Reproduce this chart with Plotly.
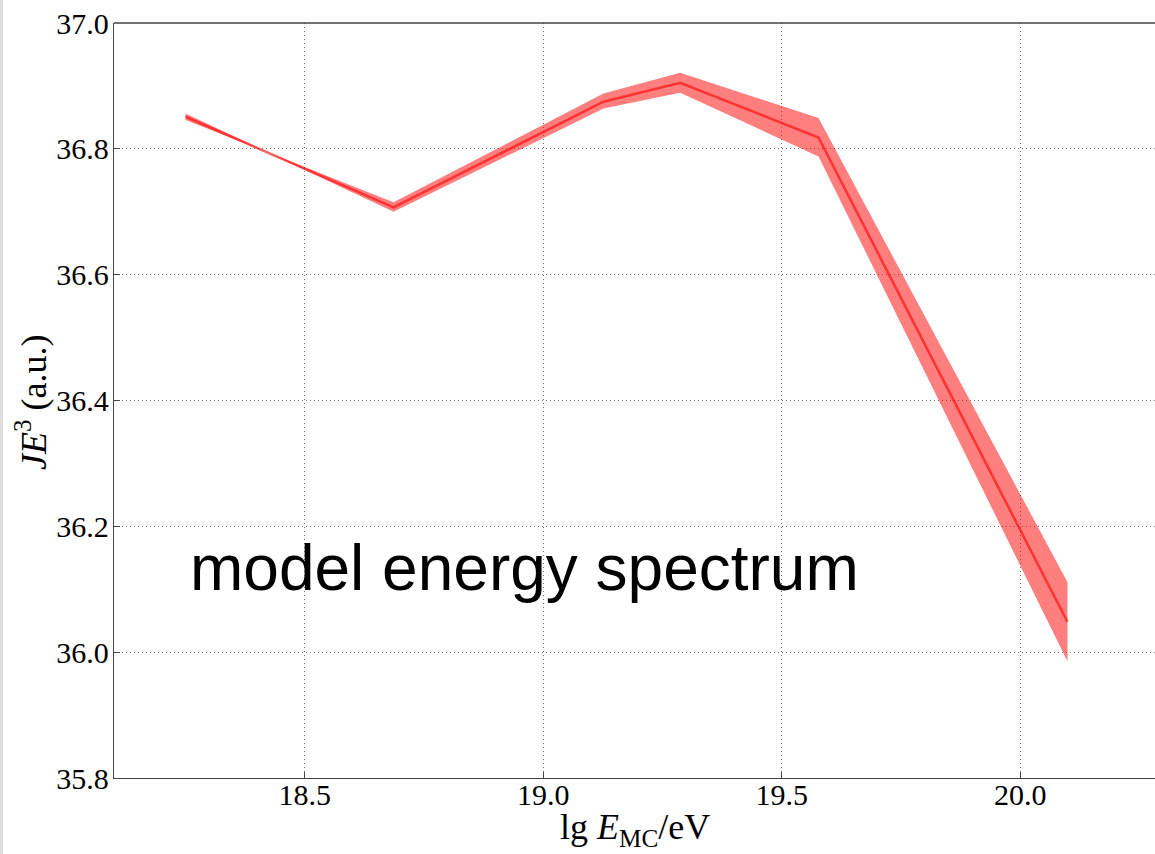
import plotly.graph_objects as go

# Data
lg_energy = [18.25, 18.686, 19.126, 19.287, 19.577, 20.099]
je3_mean = [36.851, 36.707, 36.875, 36.905, 36.818, 36.048]
je3_low = [36.856, 36.700, 36.864, 36.889, 36.788, 35.985]
je3_high = [36.846, 36.715, 36.888, 36.921, 36.849, 36.111]

y_ticks = [35.8, 36.0, 36.2, 36.4, 36.6, 36.8, 37.0]
x_ticks = [18.5, 19.0, 19.5, 20.0]

W, H = 1155, 854
L, R, T, B = 114, 0, 23, 76
pw = W - L - R
ph = H - T - B

SERIF = "Liberation Serif, DejaVu Serif, serif"
SANS = "Liberation Sans, Arial, sans-serif"

fig = go.Figure()
fig.add_trace(go.Scatter(x=lg_energy, y=je3_low, mode="lines",
                         line=dict(width=0, color="rgba(255,0,0,0)"),
                         showlegend=False, hoverinfo="skip"))
fig.add_trace(go.Scatter(x=lg_energy, y=je3_high, mode="lines",
                         line=dict(width=0, color="rgba(255,0,0,0)"),
                         fill="tonexty", fillcolor="rgba(255,0,0,0.5)",
                         showlegend=False, hoverinfo="skip"))
fig.add_trace(go.Scatter(x=lg_energy, y=je3_mean, mode="lines",
                         line=dict(width=2.6, color="rgba(255,0,0,0.6)"),
                         showlegend=False))

def px_x(p):
    return (p - L) / pw

def px_y(p):
    return 1 - (p - T) / ph

axis_color = "#444444"
grid_color = "rgba(0,0,0,0.55)"
fig.update_layout(
    width=W, height=H,
    margin=dict(l=L, r=R, t=T, b=B, pad=0),
    paper_bgcolor="white", plot_bgcolor="white",
    showlegend=False,
    font=dict(family=SERIF, size=30, color="black"),
    xaxis=dict(range=[18.1, 18.1 + pw / 477.0], tickvals=x_ticks,
               ticktext=["%.1f" % v for v in x_ticks],
               showgrid=True, gridcolor=grid_color, griddash="1px,3px", gridwidth=1,
               showline=True, linecolor=axis_color, linewidth=1.3,
               ticks="inside", ticklen=6, tickcolor=axis_color,
               ticklabelstandoff=-10,
               zeroline=False, tickfont=dict(family=SERIF, size=30)),
    yaxis=dict(range=[35.8, 37.0], tickvals=y_ticks,
               ticktext=["%.1f" % v for v in y_ticks],
               showgrid=True, gridcolor=grid_color, griddash="1px,3px", gridwidth=1,
               showline=True, linecolor=axis_color, linewidth=1.3,
               ticks="inside", ticklen=6, tickcolor=axis_color,
               ticklabelstandoff=-2,
               zeroline=False, tickfont=dict(family=SERIF, size=30)),
    shapes=[
        dict(type="line", xref="paper", yref="paper", x0=0, x1=1, y0=1, y1=1,
             line=dict(color=axis_color, width=1.3)),
        dict(type="rect", xref="paper", yref="paper", x0=px_x(0), x1=px_x(3),
             y0=px_y(H), y1=px_y(0), line=dict(width=0), fillcolor="#dddddd"),
    ],
    annotations=[
        dict(text="model energy spectrum", xref="paper", yref="paper",
             x=px_x(188), y=px_y(568), xanchor="left", yanchor="middle",
             showarrow=False, font=dict(family=SANS, size=64, color="black")),
        dict(text="<i>JE</i><sup>3</sup> (a.u.)", xref="paper", yref="paper",
             x=px_x(31), y=px_y(402), xanchor="center", yanchor="middle",
             textangle=-90, showarrow=False, font=dict(family=SERIF, size=36)),
        dict(text="lg <i>E</i><sub>MC</sub>/eV", xref="paper", yref="paper",
             x=px_x(635), y=px_y(829), xanchor="center", yanchor="middle",
             showarrow=False, font=dict(family=SERIF, size=36)),
    ],
)

fig.write_html("out.html")
